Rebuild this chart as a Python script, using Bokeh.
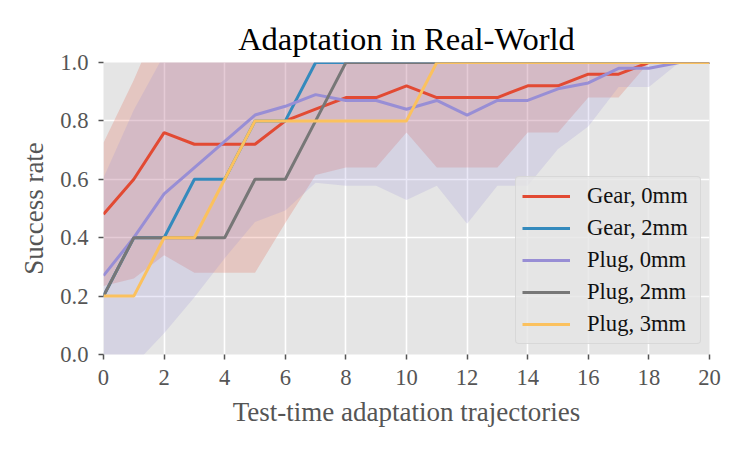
from bokeh.plotting import figure
from bokeh.models import Range1d, FixedTicker, PrintfTickFormatter, Legend, LegendItem
from bokeh.embed import file_html
from bokeh.resources import INLINE

# ---- data ----
steps = list(range(21))
x_ticks = [0, 2, 4, 6, 8, 10, 12, 14, 16, 18, 20]
y_ticks = [0.0, 0.2, 0.4, 0.6, 0.8, 1.0]

labels = ["Gear, 0mm", "Gear, 2mm", "Plug, 0mm", "Plug, 2mm", "Plug, 3mm"]
colors = ["#E24A33", "#348ABD", "#988ED5", "#777777", "#FBC15E"]

gear_0mm = [0.48, 0.60, 0.76, 0.72, 0.72, 0.72, 0.80, 0.84, 0.88, 0.88, 0.92,
            0.88, 0.88, 0.88, 0.92, 0.92, 0.96, 0.96, 1.00, 1.00, 1.00]
gear_0mm_std = [0.245, 0.34, 0.42, 0.44, 0.44, 0.44, 0.35, 0.225, 0.24, 0.24, 0.16,
                0.24, 0.24, 0.24, 0.16, 0.16, 0.08, 0.08, 0.0, 0.0, 0.0]

gear_2mm = [0.2, 0.4, 0.4, 0.6, 0.6, 0.8, 0.8, 1.0, 1.0, 1.0, 1.0,
            1.0, 1.0, 1.0, 1.0, 1.0, 1.0, 1.0, 1.0, 1.0, 1.0]

plug_0mm = [0.27, 0.40, 0.55, 0.64, 0.73, 0.82, 0.85, 0.89, 0.87, 0.87, 0.84,
            0.87, 0.82, 0.87, 0.87, 0.91, 0.93, 0.98, 0.98, 1.00, 1.00]
plug_0mm_std = [0.335, 0.437, 0.477, 0.444, 0.40, 0.366, 0.357, 0.302, 0.292, 0.292, 0.311,
                0.292, 0.372, 0.292, 0.292, 0.206, 0.149, 0.064, 0.064, 0.0, 0.0]

plug_2mm = [0.2, 0.4, 0.4, 0.4, 0.4, 0.6, 0.6, 0.8, 1.0, 1.0, 1.0,
            1.0, 1.0, 1.0, 1.0, 1.0, 1.0, 1.0, 1.0, 1.0, 1.0]

plug_3mm = [0.2, 0.2, 0.4, 0.4, 0.6, 0.8, 0.8, 0.8, 0.8, 0.8, 0.8,
            1.0, 1.0, 1.0, 1.0, 1.0, 1.0, 1.0, 1.0, 1.0, 1.0]

series = [gear_0mm, gear_2mm, plug_0mm, plug_2mm, plug_3mm]
bands = {0: gear_0mm_std, 2: plug_0mm_std}

FONT = "Liberation Serif"

p = figure(width=747, height=449, output_backend="svg", toolbar_location=None,
           x_range=Range1d(0, 20), y_range=Range1d(0, 1),
           min_border_left=103, min_border_right=38, min_border_top=62, min_border_bottom=95,
           background_fill_color="#E5E5E5", border_fill_color="white",
           outline_line_color=None, title="Adaptation in Real-World")

# shaded std bands
for i, std in bands.items():
    m = series[i]
    lo = [a - s for a, s in zip(m, std)]
    hi = [a + s for a, s in zip(m, std)]
    p.varea(x=steps, y1=lo, y2=hi, fill_color=colors[i], fill_alpha=0.2)

renderers = []
for ys, c in zip(series, colors):
    r = p.line(steps, ys, line_color=c, line_width=3)
    renderers.append(r)

legend = Legend(items=[LegendItem(label=l, renderers=[r]) for l, r in zip(labels, renderers)],
                location=(412, 10), orientation="vertical",
                background_fill_color="#E5E5E5", background_fill_alpha=0.8,
                border_line_color="#CCCCCC", border_line_width=1,
                label_text_font=FONT, label_text_font_size="22.6px", label_text_color="#111111",
                glyph_width=48, glyph_height=22, label_height=22, label_width=107, spacing=6,
                padding=6, label_standoff=17, margin=0)
if "border_radius" in Legend.properties():
    legend.border_radius = 4
p.add_layout(legend, "center")

p.title.text_font = FONT
p.title.text_font_size = "32.5px"
p.title.text_font_style = "normal"
p.title.text_color = "black"
p.title.align = "center"
p.title.standoff = 12

p.xaxis.ticker = FixedTicker(ticks=x_ticks)
p.yaxis.ticker = FixedTicker(ticks=y_ticks)
p.yaxis.formatter = PrintfTickFormatter(format="%.1f")
p.xaxis.axis_label = "Test-time adaptation trajectories"
p.yaxis.axis_label = "Success rate"

for ax in (p.xaxis, p.yaxis):
    ax.axis_line_color = None
    ax.major_tick_line_color = "#555555"
    ax.major_tick_line_width = 1.5
    ax.major_tick_out = 5
    ax.major_tick_in = 0
    ax.minor_tick_line_color = None
    ax.major_label_text_font = FONT
    ax.major_label_text_font_size = "22.6px"
    ax.major_label_text_color = "#555555"
    ax.axis_label_text_font = FONT
    ax.axis_label_text_font_size = "27px"
    ax.axis_label_text_font_style = "normal"
    ax.axis_label_text_color = "#555555"

p.xaxis.major_label_standoff = 10
p.yaxis.major_label_standoff = 10
p.xaxis.axis_label_standoff = 9
p.yaxis.axis_label_standoff = 8

p.grid.grid_line_color = "white"
p.grid.grid_line_width = 1.6

open("out.html", "w").write(file_html(p, INLINE))
